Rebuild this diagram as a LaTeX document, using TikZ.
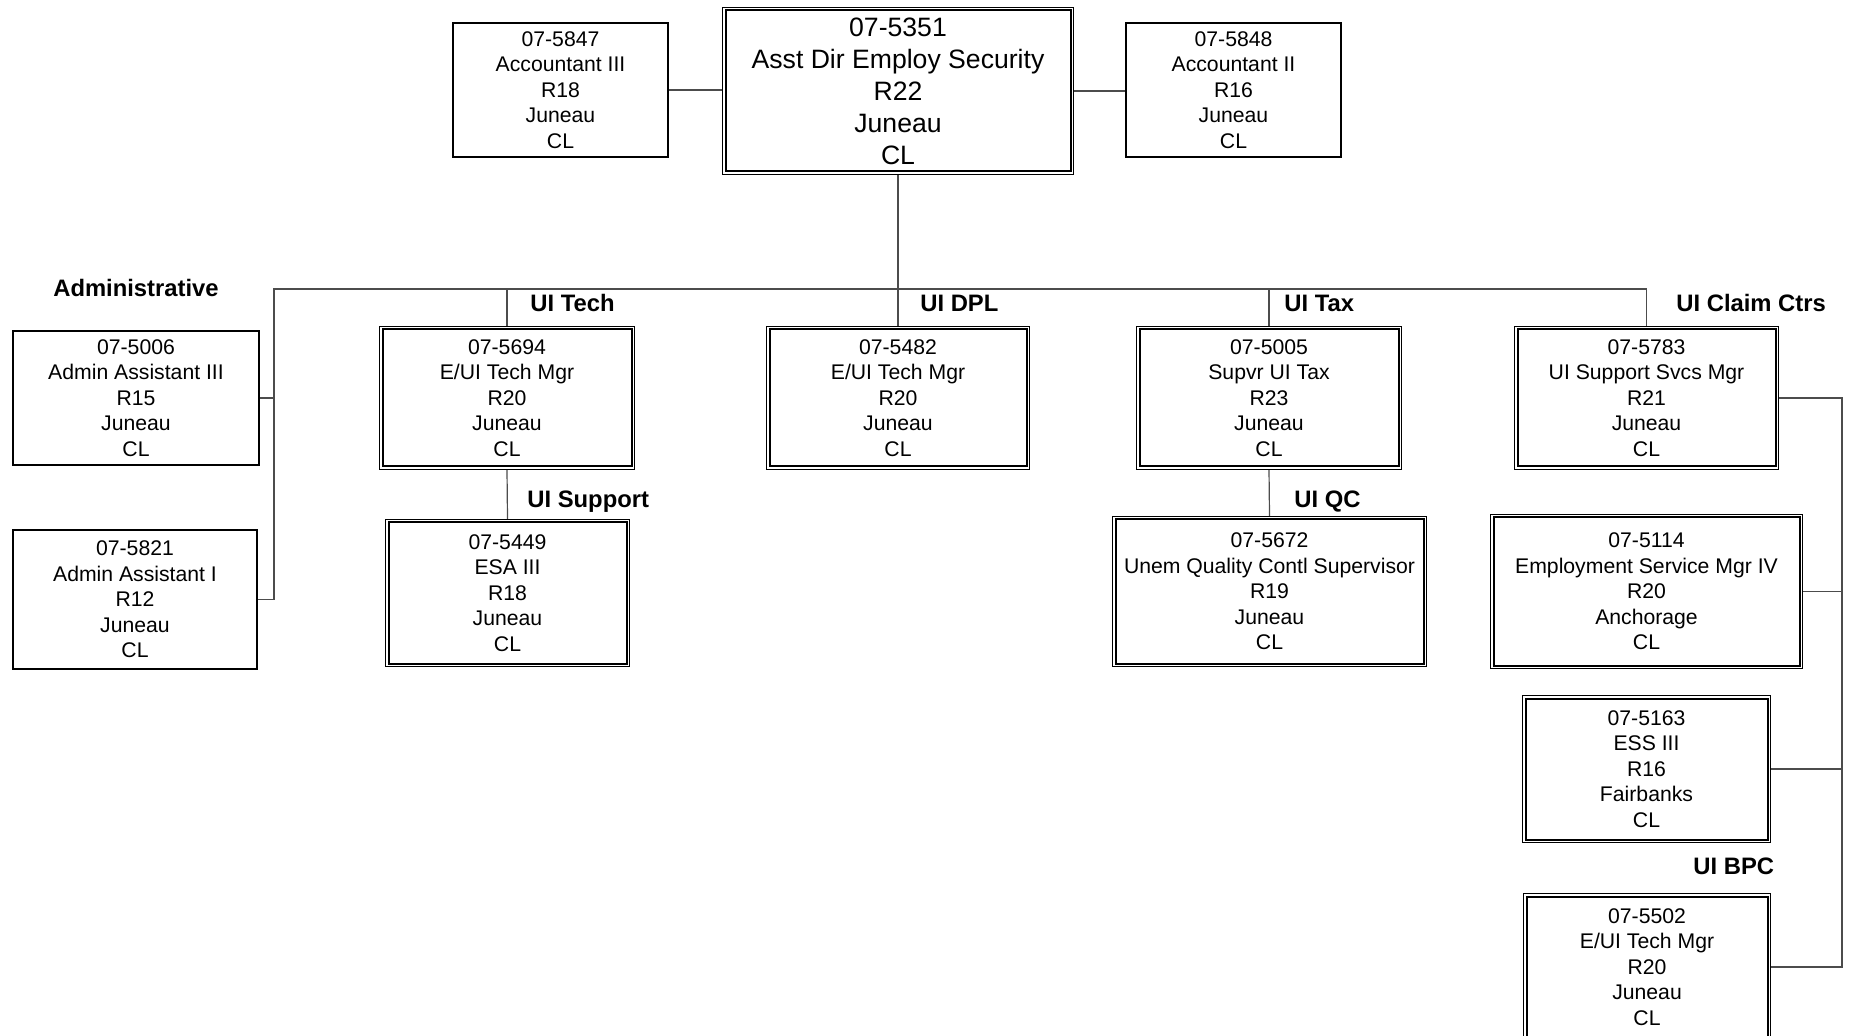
\documentclass[tikz,border=0pt]{standalone}
\usepackage{fontspec}
\setmainfont{Liberation Sans}
\usepackage{tikz}
\usetikzlibrary{backgrounds}

\begin{document}
\begin{tikzpicture}[x=0.5pt,y=-0.5pt,
	post/.style={draw,line width=0.8pt,align=center,inner sep=0pt,
		font=\fontsize{10.6}{12.8}\selectfont},
	dpost/.style={post,line width=0.5pt,
		append after command={\pgfextra{\draw[line width=1pt]
			([shift={(1.75pt,-1.75pt)}]\tikzlastnode.north west) rectangle
			([shift={(-1.75pt,1.75pt)}]\tikzlastnode.south east);}}},
	unit/.style={anchor=west,inner sep=0pt,text depth=0pt,font=\fontsize{11.9}{14}\selectfont\bfseries},
	link/.style={black!70,line width=0.6pt}]
				\useasboundingbox (0,0) rectangle (1850,1036);
				% the director, with the two accountants beside him
				\node[dpost,minimum width=175.5pt,minimum height=83.5pt,font=\fontsize{13.3}{16}\selectfont]
					(p5351) at (898,91) {07-5351\\Asst Dir Employ Security\\R22\\Juneau\\CL};
				\node[post,minimum width=107.7pt,minimum height=67.2pt] (p5847) at (560.5,90) {07-5847\\Accountant III\\R18\\Juneau\\CL};
				\node[post,minimum width=107.7pt,minimum height=67.2pt] (p5848) at (1233.5,90) {07-5848\\Accountant II\\R16\\Juneau\\CL};
				% administrative staff on the left
				\node[unit,anchor=center] (admin) at (136,288) {Administrative};
				\node[post,minimum width=123.2pt,minimum height=67.2pt] (p5006) at (136,398) {07-5006\\Admin Assistant III\\R15\\Juneau\\CL};
				\node[post,minimum width=122.2pt,minimum height=69.7pt] (p5821) at (135,599.5) {07-5821\\Admin Assistant I\\R12\\Juneau\\CL};
				% the unit heads
				\node[dpost,minimum width=127.5pt,minimum height=71.5pt] (p5694) at (507,398) {07-5694\\E/UI Tech Mgr\\R20\\Juneau\\CL};
				\node[dpost,minimum width=122pt,minimum height=73.5pt] (p5449) at (507.5,593) {07-5449\\ESA III\\R18\\Juneau\\CL};
				\node[dpost,minimum width=131.5pt,minimum height=71.5pt] (p5482) at (898,398) {07-5482\\E/UI Tech Mgr\\R20\\Juneau\\CL};
				\node[dpost,minimum width=132.5pt,minimum height=71.5pt] (p5005) at (1269,398) {07-5005\\Supvr UI Tax\\R23\\Juneau\\CL};
				\node[dpost,minimum width=157pt,minimum height=75pt] (p5672) at (1269.5,591.5) {07-5672\\Unem Quality Contl Supervisor\\R19\\Juneau\\CL};
				\node[dpost,minimum width=132pt,minimum height=71.5pt] (p5783) at (1646.5,398) {07-5783\\UI Support Svcs Mgr\\R21\\Juneau\\CL};
				% the claim centres, stacked down the right edge
				\node[dpost,minimum width=156pt,minimum height=77pt] (p5114) at (1646.5,591.5) {07-5114\\Employment Service Mgr IV\\R20\\Anchorage\\CL};
				\node[dpost,minimum width=124pt,minimum height=73.5pt] (p5163) at (1646.5,769) {07-5163\\ESS III\\R16\\Fairbanks\\CL};
				\node[dpost,minimum width=123.5pt,minimum height=73.5pt] (p5502) at (1647,967) {07-5502\\E/UI Tech Mgr\\R20\\Juneau\\CL};
				% unit names
				\node[unit] (uitech) at (530,303) {UI Tech};
				\node[unit] (uisupport) at (527,499) {UI Support};
				\node[unit] (uidpl) at (920,303) {UI DPL};
				\node[unit] (uitax) at (1284,303) {UI Tax};
				\node[unit] (uiqc) at (1294,499) {UI QC};
				\node[unit] (uiclaim) at (1676,303) {UI Claim Ctrs};
				\node[unit] (uibpc) at (1693,866) {UI BPC};
				% reporting lines, kept behind the boxes
				\coordinate (busL) at (274,289);
				\coordinate (clm) at (1842,398);
				\begin{scope}[on background layer]
					\draw[link] (p5847.east) -- (p5847.east -| p5351.west);
					\draw[link] (p5351.east) -- (p5351.east -| p5848.west);
					\draw[link] (p5351.south) -- (p5482.north);
					\draw[link] (p5821.east) -| (busL) -| (p5783.north);
					\draw[link] (p5006.east) -- (p5006.east -| busL);
					\draw[link] (p5694.north |- busL) -- (p5694.north);
					\draw[link] (p5005.north |- busL) -- (p5005.north);
					\draw[link] (p5694.south) -- (p5449.north);
					\draw[link] (p5005.south) -- (p5672.north);
					\draw[link] (p5783.east) -- (clm) |- (p5502.east);
					\draw[link] (p5114.east) -- (p5114.east -| clm);
					\draw[link] (p5163.east) -- (p5163.east -| clm);
				\end{scope}
\end{tikzpicture}
\end{document}
